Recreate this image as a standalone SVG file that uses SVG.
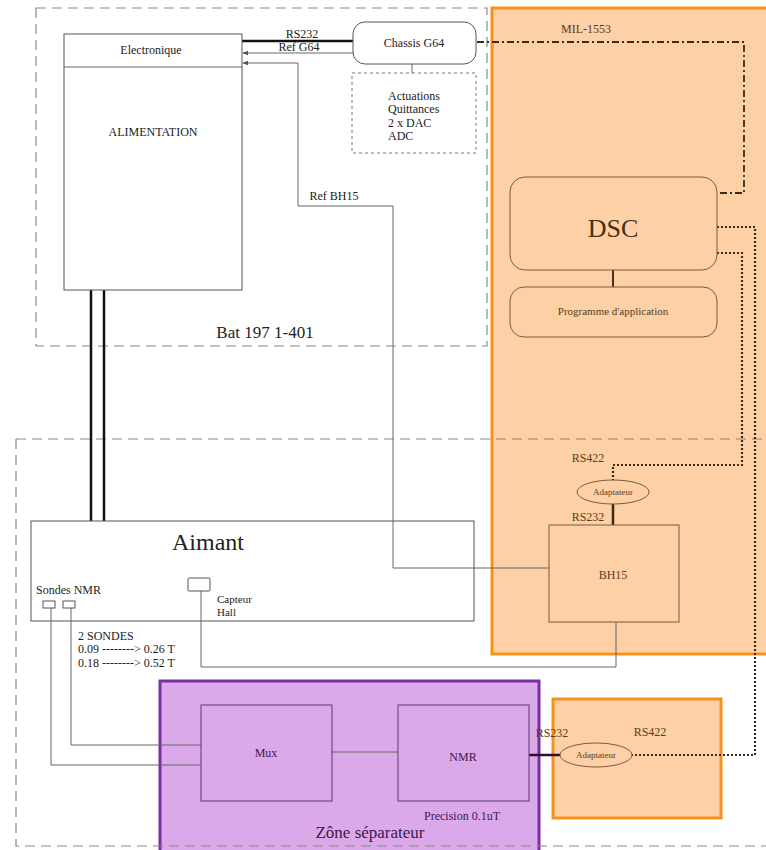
<svg xmlns="http://www.w3.org/2000/svg" width="766" height="850" viewBox="0 0 766 850">
<style>
text{font-family:Liberation Serif,Times New Roman,Times,serif;fill:#222}
.t12{font-size:12px}
.t11{font-size:11px}
.box{fill:none;stroke:#555;stroke-width:1}
.bbox{fill:none;stroke:#7a5a3c;stroke-width:1}
.zone{fill:none;stroke:#888;stroke-width:1.2;stroke-dasharray:10,6}
.thin{fill:none;stroke:#666;stroke-width:1}
.thick{fill:none;stroke:#111;stroke-width:2.5}
.dot{fill:none;stroke:#3a2a1a;stroke-width:2.2;stroke-dasharray:2,2}
.dashdot{fill:none;stroke:#3a2a1a;stroke-width:1.8;stroke-dasharray:7,3,2,3}
.brn{fill:#5a3c22}
.prp{fill:#3a1a4a}
</style>
<defs>
<marker id="arr" viewBox="0 0 8 8" refX="7" refY="4" markerWidth="6" markerHeight="6" orient="auto-start-reverse">
<path d="M0,1 L8,4 L0,7 z" fill="#555"/>
</marker>
</defs>
<rect width="766" height="850" fill="#fff"/>

<g id="zone-orange-dsc">
<rect x="492" y="8" width="280" height="646" fill="#FDD1A5" stroke="#F7911E" stroke-width="3"/>
</g>
<g id="zone-orange-rs422">
<rect x="553" y="699" width="168" height="119" fill="#FDD1A5" stroke="#F7911E" stroke-width="3"/>
<text x="650" y="736" class="t12 brn" text-anchor="middle">RS422</text>
</g>
<g id="zone-purple">
<rect x="160" y="681" width="379" height="175" fill="#DBA8EA" stroke="#7B2FA5" stroke-width="3"/>
<text x="370" y="838" font-size="17" class="prp" text-anchor="middle">Zône séparateur</text>
<text x="462" y="820" class="t12 prp" text-anchor="middle">Precision 0.1uT</text>
</g>

<g id="zone-bat">
<path class="zone" d="M36,8 H487 V346 H36 Z"/>
<text x="265" y="338" font-size="17" text-anchor="middle">Bat 197 1-401</text>
</g>
<g id="zone-lower">
<path class="zone" d="M16,439 H766 M16,439 V846 H766"/>
</g>

<g id="connectors">
<line class="thick" x1="242" y1="41" x2="353" y2="41"/>
<line class="thin" x1="353" y1="53" x2="243" y2="53" marker-end="url(#arr)"/>
<polyline class="thin" points="549,568 393,568 393,206 298,206 298,63 243,63" marker-end="url(#arr)"/>
<line class="thin" x1="412" y1="64" x2="412" y2="73"/>
<polyline class="dashdot" points="477,42 744,42 744,193 717,193"/>
<line x1="613" y1="270" x2="613" y2="287" stroke="#4a3020" stroke-width="2"/>
<polyline class="dot" points="717,227 755,227 755,755 632,755"/>
<polyline class="dot" points="717,253 742,253 742,465 613,465 613,480"/>
<line x1="613" y1="504" x2="613" y2="525" stroke="#3a2a1a" stroke-width="2.5"/>
<line x1="529" y1="755" x2="560" y2="755" stroke="#2a1030" stroke-width="2.5"/>
<line x1="91" y1="290" x2="91" y2="521" stroke="#111" stroke-width="2.5"/>
<line x1="104" y1="290" x2="104" y2="521" stroke="#111" stroke-width="2.5"/>
<polyline class="thin" points="616,622 616,667 201,667 201,591"/>
<polyline class="thin" points="51,608 51,765 201,765"/>
<polyline class="thin" points="71,608 71,745 201,745"/>
<line class="thin" x1="332" y1="752" x2="398" y2="752"/>
<text x="302" y="38" class="t12" text-anchor="middle">RS232</text>
<text x="299" y="51" class="t12" text-anchor="middle">Ref  G64</text>
<text x="334" y="200" class="t12" text-anchor="middle">Ref  BH15</text>
<text x="586" y="33" class="t12 brn" text-anchor="middle">MIL-1553</text>
<text x="588" y="462" class="t12 brn" text-anchor="middle">RS422</text>
<text x="588" y="521" class="t12 brn" text-anchor="middle">RS232</text>
<text x="552" y="737" class="t12 brn" text-anchor="middle">RS232</text>
</g>

<g id="alimentation">
<rect class="box" x="64" y="34" width="178" height="256" fill="#fff"/>
<line class="thin" x1="64" y1="67" x2="242" y2="67"/>
<text x="151" y="54" class="t12" text-anchor="middle">Electronique</text>
<text x="153" y="136" class="t12" text-anchor="middle">ALIMENTATION</text>
</g>
<g id="chassis">
<rect class="box" x="353" y="22" width="123" height="42" rx="12" fill="#fff"/>
<text x="414" y="47" class="t12" text-anchor="middle">Chassis G64</text>
</g>
<g id="actuations">
<rect x="352" y="73" width="124" height="80" fill="none" stroke="#777" stroke-width="1" stroke-dasharray="3,3"/>
<text x="388" y="100" class="t12">Actuations</text>
<text x="388" y="113" class="t12">Quittances</text>
<text x="388" y="127" class="t12">2 x DAC</text>
<text x="388" y="140" class="t12">ADC</text>
</g>
<g id="dsc">
<rect class="bbox" x="510" y="177" width="207" height="93" rx="15"/>
<text x="613" y="237" font-size="26" text-anchor="middle" style="fill:#4a2e16">DSC</text>
</g>
<g id="programme">
<rect class="bbox" x="510" y="287" width="207" height="50" rx="14"/>
<text x="613" y="315" class="t11 brn" text-anchor="middle">Programme d'application</text>
</g>
<g id="adaptateur1">
<ellipse cx="613" cy="492" rx="36" ry="12" class="bbox"/>
<text x="613" y="495" font-size="9" class="brn" text-anchor="middle">Adaptateur</text>
</g>
<g id="bh15">
<rect class="bbox" x="549" y="525" width="130" height="97"/>
<text x="613" y="579" class="t12 brn" text-anchor="middle">BH15</text>
</g>
<g id="aimant">
<rect class="box" x="31" y="521" width="443" height="100" fill="#fff"/>
<text x="208" y="550" font-size="24" text-anchor="middle">Aimant</text>
<text x="36" y="594" class="t12">Sondes NMR</text>
<rect class="box" x="43" y="601" width="12" height="7"/>
<rect class="box" x="63" y="601" width="12" height="7"/>
<rect class="box" x="188" y="578" width="22" height="13" rx="1"/>
<text x="217" y="603" class="t11">Capteur</text>
<text x="217" y="616" class="t11">Hall</text>
</g>
<g id="sondes-note">
<text x="78" y="640" class="t12">2 SONDES</text>
<text x="78" y="653" class="t12">0.09 --------&gt; 0.26 T</text>
<text x="78" y="667" class="t12">0.18 --------&gt; 0.52 T</text>
</g>
<g id="mux">
<rect x="201" y="705" width="131" height="96" fill="none" stroke="#5a3a6a" stroke-width="1"/>
<text x="266" y="757" class="t12 prp" text-anchor="middle">Mux</text>
</g>
<g id="nmr">
<rect x="398" y="705" width="131" height="96" fill="none" stroke="#5a3a6a" stroke-width="1"/>
<text x="463" y="761" class="t12 prp" text-anchor="middle">NMR</text>
</g>
<g id="adaptateur2">
<ellipse cx="596" cy="755" rx="36" ry="12" class="bbox"/>
<text x="596" y="758" font-size="9" class="brn" text-anchor="middle">Adaptateur</text>
</g>
</svg>
